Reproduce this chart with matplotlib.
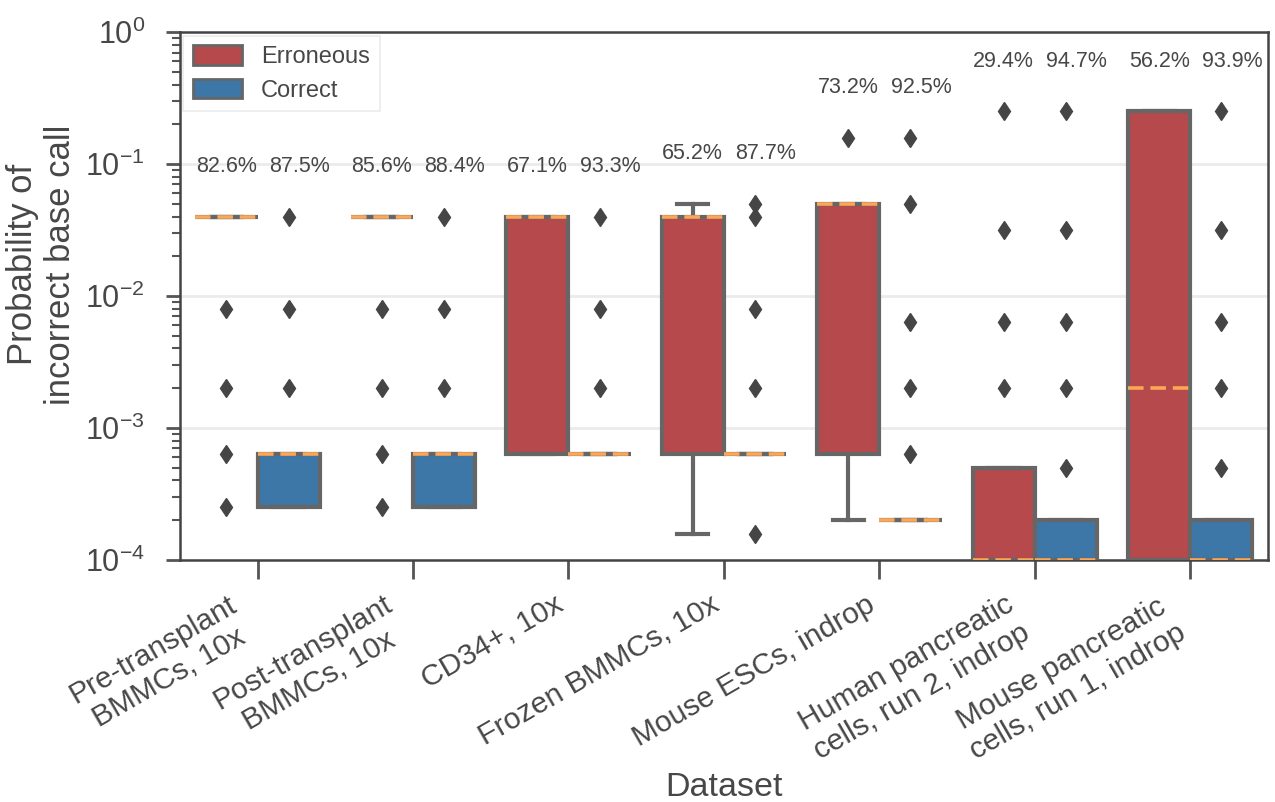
import matplotlib
matplotlib.use("Agg")
import matplotlib.pyplot as plt
from matplotlib.patches import Patch
import numpy as np

plt.rcParams['font.family'] = ['Liberation Sans', 'DejaVu Sans']
plt.rcParams['mathtext.fontset'] = 'custom'
plt.rcParams['mathtext.rm'] = 'Liberation Sans'
plt.rcParams['mathtext.it'] = 'Liberation Sans:italic'
plt.rcParams['mathtext.bf'] = 'Liberation Sans:bold'

TEXT = '#474747'
EDGE = '#666666'
RED = '#b5494c'
BLUE = '#3c77a7'
ORANGE = '#fba757'

datasets = ['Pre-transplant\nBMMCs, 10x', 'Post-transplant\nBMMCs, 10x', 'CD34+, 10x',
            'Frozen BMMCs, 10x', 'Mouse ESCs, indrop',
            'Human pancreatic\ncells, run 2, indrop', 'Mouse pancreatic\ncells, run 1, indrop']
hues = ['Erroneous', 'Correct']

# box statistics per dataset (probabilities of an incorrect base call)
err_q1 = [0.0398, 0.0398, 0.00063, 0.00063, 0.00063, 0.0001, 0.0001]
err_med = [0.0398, 0.0398, 0.0398, 0.0398, 0.0501, 0.0001, 0.002]
err_q3 = [0.0398, 0.0398, 0.0398, 0.0398, 0.0501, 0.0005, 0.251]
err_whislo = [0.0398, 0.0398, 0.00063, 0.000158, 0.0002, 0.0001, 0.0001]
err_whishi = [0.0398, 0.0398, 0.0398, 0.0501, 0.0501, 0.0005, 0.251]
err_fliers = [[0.00794, 0.002, 0.00063, 0.000251],
              [0.00794, 0.002, 0.00063, 0.000251],
              [], [], [0.158],
              [0.251, 0.0316, 0.0063, 0.002], []]
err_pct = [82.6, 85.6, 67.1, 65.2, 73.2, 29.4, 56.2]

cor_q1 = [0.000251, 0.000251, 0.00063, 0.00063, 0.0002, 0.0001, 0.0001]
cor_med = [0.00063, 0.00063, 0.00063, 0.00063, 0.0002, 0.0001, 0.0001]
cor_q3 = [0.00063, 0.00063, 0.00063, 0.00063, 0.0002, 0.0002, 0.0002]
cor_whislo = [0.000251, 0.000251, 0.00063, 0.00063, 0.0002, 0.0001, 0.0001]
cor_whishi = [0.00063, 0.00063, 0.00063, 0.00063, 0.0002, 0.0002, 0.0002]
cor_fliers = [[0.0398, 0.00794, 0.002],
              [0.0398, 0.00794, 0.002],
              [0.0398, 0.00794, 0.002],
              [0.0501, 0.0398, 0.00794, 0.002, 0.000158],
              [0.158, 0.0501, 0.0063, 0.002, 0.00063],
              [0.251, 0.0316, 0.0063, 0.002, 0.0005],
              [0.251, 0.0316, 0.0063, 0.002, 0.0005]]
cor_pct = [87.5, 88.4, 93.3, 87.7, 92.5, 94.7, 93.9]


def make_stats(q1, med, q3, lo, hi, fl):
    return [dict(q1=a, med=b, q3=c, whislo=d, whishi=e, fliers=f)
            for a, b, c, d, e, f in zip(q1, med, q3, lo, hi, fl)]


# (stats, colour, box offset, label offset, percentages)
series = [
    (make_stats(err_q1, err_med, err_q3, err_whislo, err_whishi, err_fliers), RED, -0.2, -0.2, err_pct),
    (make_stats(cor_q1, cor_med, cor_q3, cor_whislo, cor_whishi, cor_fliers), BLUE, 0.2, 0.27, cor_pct),
]

fig = plt.figure(figsize=(12.75, 8.02), dpi=100)
ax = fig.add_axes([0.141, 0.302, 0.8535, 0.658])
ax.set_yscale('log')

x = np.arange(len(datasets))
for stats, color, off, loff, pct in series:
    ax.bxp(stats, positions=x + off, widths=0.4, patch_artist=True, manage_ticks=False,
           boxprops=dict(facecolor=color, edgecolor=EDGE, linewidth=3),
           medianprops=dict(color=ORANGE, linewidth=2.6, linestyle=(0, (4.3, 1.9))),
           whiskerprops=dict(color=EDGE, linewidth=3),
           capprops=dict(color=EDGE, linewidth=3),
           flierprops=dict(marker='d', markerfacecolor='#454545', markeredgecolor='#454545',
                           markersize=9.5),
           zorder=3)

# percentage labels sit just above the highest point of each dataset
for i in range(len(datasets)):
    top = max([err_whishi[i], cor_whishi[i]] + err_fliers[i] + cor_fliers[i])
    for stats, color, off, loff, pct in series:
        ax.text(x[i] + loff, top * 2.0, f'{pct[i]:.1f}%', ha='center', va='bottom',
                fontsize=15.5, color=TEXT)

ax.set_xlim(-0.5, len(datasets) - 0.5)
ax.set_ylim(1e-4, 1)
ax.set_xticks(x)
ax.set_xticklabels(datasets, rotation=30, ha='right', multialignment='center',
                   fontsize=21.5, color=TEXT)
ax.tick_params(axis='x', length=14, width=2, color='#555555', pad=8)
ax.tick_params(axis='y', which='major', length=10, width=2, color='#555555',
               labelsize=22, labelcolor=TEXT, pad=15)
ax.tick_params(axis='y', which='minor', length=6, width=1.5, color='#555555')
ax.yaxis.grid(True, which='major', color='#ebebeb', linewidth=2)
ax.set_axisbelow(True)
for s in ax.spines.values():
    s.set_color('#444444')
    s.set_linewidth(1.8)

ax.set_xlabel('Dataset', fontsize=24.5, color=TEXT, labelpad=5)
ax.set_ylabel('Probability of\nincorrect base call', fontsize=25, color=TEXT)
ax.yaxis.set_label_coords(-0.094, 0.559)

handles = [Patch(facecolor=RED, edgecolor=EDGE, linewidth=2, label=hues[0]),
           Patch(facecolor=BLUE, edgecolor=EDGE, linewidth=2, label=hues[1])]
leg = ax.legend(handles=handles, loc='upper left', fontsize=17, handlelength=2.1,
                handleheight=0.9, labelspacing=0.45, borderaxespad=0.15, frameon=True,
                fancybox=False, labelcolor=TEXT)
leg.get_frame().set_edgecolor('#e6e6e6')
leg.get_frame().set_linewidth(1.2)

fig.savefig('out.png', dpi=100)
